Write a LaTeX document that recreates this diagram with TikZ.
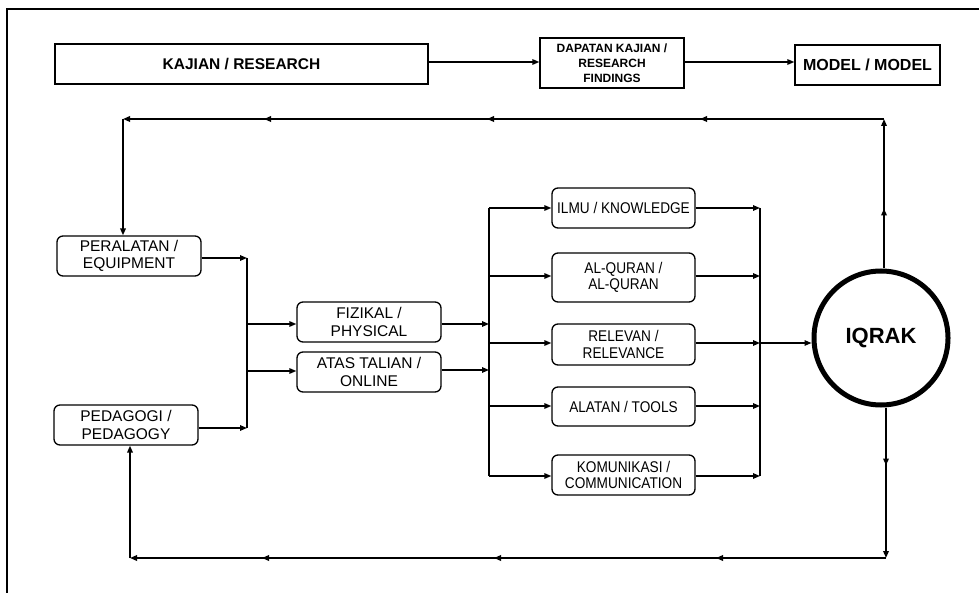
\documentclass[tikz,border=0pt]{standalone}
\usepackage{fontspec}
\setmainfont{Liberation Sans}
\newfontfamily\narrowfont[FakeStretch=0.88]{Liberation Sans}
\usetikzlibrary{arrows.meta,decorations.markings,calc}
\begin{document}
\begin{tikzpicture}[x=1pt,y=-1pt,
  >={Triangle[length=7pt,width=5.5pt]},
  sqbox/.style={draw, line width=1.3pt, inner sep=0pt, align=center},
  lbox/.style={draw, line width=1.3pt, rounded corners=6pt, minimum width=144pt, minimum height=40pt,
     inner sep=0pt, align=center, font=\fontsize{15.5}{17.5}\selectfont},
  rbox/.style={draw, line width=1.3pt, rounded corners=6pt, minimum width=143pt, minimum height=40pt,
     inner sep=0pt, align=center, font=\narrowfont\fontsize{15.5}{16.5}\selectfont},
  conn/.style={line width=1.4pt},
  loopline/.style={line width=2.6pt},
]
\useasboundingbox (0,0) rectangle (979,593);
% outer frame (cropped at right and bottom)
\draw[line width=1.5pt] (7,620) -- (7,9) -- (1000,9);

% top row
\node[sqbox, minimum width=373pt, minimum height=40pt, font=\bfseries\fontsize{15.5}{17}\selectfont] (kaj) at (241.5,64) {KAJIAN / RESEARCH};
\node[sqbox, minimum width=144pt, minimum height=50pt, font=\bfseries\fontsize{12}{15}\selectfont] (dap) at (612,63) {DAPATAN KAJIAN /\\RESEARCH\\FINDINGS};
\node[sqbox, minimum width=145pt, minimum height=40pt, font=\bfseries\fontsize{16}{18}\selectfont] (mod) at (867.5,65) {MODEL / MODEL};
\draw[conn,->] (kaj.east |- 0,62) -- (dap.west |- 0,62);
\draw[conn,->] (dap.east |- 0,62) -- (mod.west |- 0,62);

% left boxes
\node[lbox] (per) at (129,256) {PERALATAN /\\EQUIPMENT};
\node[lbox] (ped) at (126,425) {PEDAGOGI /\\PEDAGOGY};
\node[lbox] (fiz) at (369,322) {FIZIKAL /\\PHYSICAL};
\node[lbox] (ata) at (369,372) {ATAS TALIAN /\\ONLINE};

% right boxes
\node[rbox] (ilm) at (623.5,208) {ILMU / KNOWLEDGE};
\node[rbox, minimum height=49pt] (alq) at (623.5,277.5) {AL-QURAN /\\AL-QURAN};
\node[rbox, minimum height=41pt] (rel) at (623.5,344.5) {RELEVAN /\\RELEVANCE};
\node[rbox, minimum height=39pt] (ala) at (623.5,406.5) {ALATAN / TOOLS};
\node[rbox] (kom) at (623.5,475) {KOMUNIKASI /\\COMMUNICATION};

% IQRAK circle
\node[circle, draw, line width=5pt, minimum size=134pt, inner sep=0pt,
      font=\bfseries\fontsize{22}{24}\selectfont] (iq) at (881,338) {IQRAK};

% junction 1
\coordinate (j1a) at (247,258);
\coordinate (j1b) at (247,428);
\draw[conn] (j1a) -- (j1b);
\draw[conn,->] (per.east |- j1a) -- (j1a);
\draw[conn,->] (ped.east |- j1b) -- (j1b);
\draw[conn,->] (j1a |- 0,324) -- (fiz.west |- 0,324);
\draw[conn,->] (j1a |- 0,371) -- (ata.west |- 0,371);

% junction 2
\coordinate (j2a) at (489,208);
\coordinate (j2b) at (489,476);
\draw[conn] (j2a) -- (j2b);
\draw[conn,->] (fiz.east |- 0,324) -- (j2a |- 0,324);
\draw[conn,->] (ata.east |- 0,370) -- (j2a |- 0,370);
\draw[conn,->] (j2a) -- (ilm.west |- j2a);
\draw[conn,->] (j2a |- 0,276) -- (alq.west |- 0,276);
\draw[conn,->] (j2a |- 0,343) -- (rel.west |- 0,343);
\draw[conn,->] (j2a |- 0,406) -- (ala.west |- 0,406);
\draw[conn,->] (j2b) -- (kom.west |- j2b);

% junction 3
\coordinate (j3a) at (760,208);
\coordinate (j3b) at (760,476);
\draw[conn] (j3a) -- (j3b);
\draw[conn,->] (ilm.east |- j3a) -- (j3a);
\draw[conn,->] (alq.east |- 0,276) -- (j3a |- 0,276);
\draw[conn,->] (rel.east |- 0,343) -- (j3a |- 0,343);
\draw[conn,->] (ala.east |- 0,406) -- (j3a |- 0,406);
\draw[conn,->] (kom.east |- j3b) -- (j3b);
\draw[conn,->] (j3a |- 0,343) -- (iq.west |- 0,343);

% feedback loop top
\coordinate (t1) at (884,119);
\coordinate (t2) at (123,119);
\draw[loopline,->, postaction={decorate},
  decoration={markings, mark=at position 60pt with {\arrow{>}}}]
  (t1 |- iq.north) -- (t1);
\draw[loopline,->, postaction={decorate},
  decoration={markings,
    mark=at position 184pt with {\arrow{>}},
    mark=at position 397pt with {\arrow{>}},
    mark=at position 620pt with {\arrow{>}}}]
  (t1) -- (t2);
\draw[loopline,->] (t2) -- (t2 |- per.north);

% feedback loop bottom
\coordinate (b1) at (886,558);
\coordinate (b2) at (130,558);
\draw[loopline,->, postaction={decorate},
  decoration={markings, mark=at position 58pt with {\arrow{>}}}]
  (b1 |- iq.south) -- (b1);
\draw[loopline,->, postaction={decorate},
  decoration={markings,
    mark=at position 170pt with {\arrow{>}},
    mark=at position 392pt with {\arrow{>}},
    mark=at position 624pt with {\arrow{>}}}]
  (b1) -- (b2);
\draw[loopline,->] (b2) -- (b2 |- ped.south);
\end{tikzpicture}
\end{document}
